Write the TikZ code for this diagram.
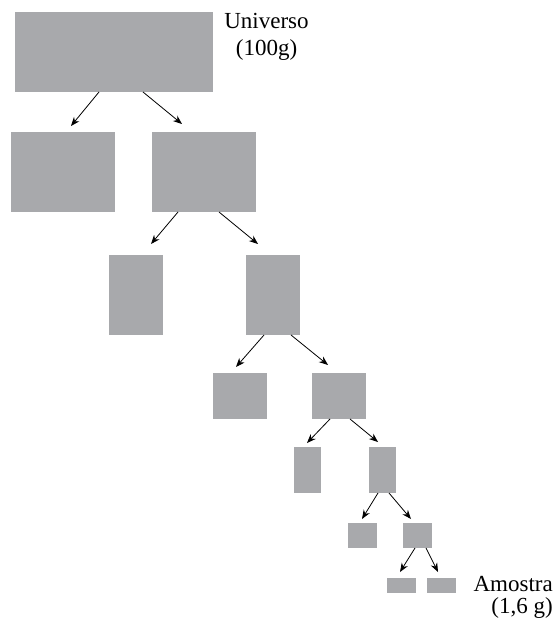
\documentclass[tikz,border=0pt]{standalone}
\usepackage{fontspec}
\setmainfont{Liberation Serif}
\usetikzlibrary{arrows.meta,calc}
\definecolor{boxgray}{HTML}{A8A9AC}
\tikzset{
  box/.style={fill=boxgray, draw=none, inner sep=0pt, outer sep=0pt, rectangle},
  arr/.style={draw=black, line width=0.8pt, -{Stealth[length=9pt,width=7pt]}},
  lbl/.style={font=\fontsize{23}{27}\selectfont, inner sep=0pt}
}
\begin{document}
\begin{tikzpicture}[x=1pt,y=-1pt]
\useasboundingbox (0,0) rectangle (558,620);
% boxes
\node[box, minimum width=198pt, minimum height=80pt] (r0) at (114,52) {};
\node[box, minimum width=104pt, minimum height=80pt] (r1L) at (63,172) {};
\node[box, minimum width=104pt, minimum height=80pt] (r1R) at (204,172) {};
\node[box, minimum width=54pt, minimum height=80pt] (r2L) at (136,295) {};
\node[box, minimum width=54pt, minimum height=80pt] (r2R) at (273,295) {};
\node[box, minimum width=54pt, minimum height=46pt] (r3L) at (240,396) {};
\node[box, minimum width=54pt, minimum height=46pt] (r3R) at (338.5,396) {};
\node[box, minimum width=27pt, minimum height=46pt] (r4L) at (307.5,470) {};
\node[box, minimum width=27pt, minimum height=46pt] (r4R) at (382.5,470) {};
\node[box, minimum width=29pt, minimum height=25pt] (r5L) at (362.5,535.5) {};
\node[box, minimum width=29pt, minimum height=25pt] (r5R) at (417.5,535.5) {};
\node[box, minimum width=29pt, minimum height=15pt] (r6L) at (401.5,585.5) {};
\node[box, minimum width=29pt, minimum height=15pt] (r6R) at (441.5,585.5) {};
% arrows
\draw[arr] ($(r0.south)+(-15,0)$) -- ($(r1L.north)+(8,-6)$);
\draw[arr] ($(r0.south)+(29,0)$) -- ($(r1R.north)+(-22,-8)$);
\draw[arr] ($(r1R.south)+(-26,0)$) -- ($(r2L.north)+(15,-11)$);
\draw[arr] ($(r1R.south)+(15,0)$) -- ($(r2R.north)+(-15,-11)$);
\draw[arr] ($(r2R.south)+(-9,0)$) -- ($(r3L.north)+(-4,-6)$);
\draw[arr] ($(r2R.south)+(18,0)$) -- ($(r3R.north)+(-10.5,-8)$);
\draw[arr] ($(r3R.south)+(-8.5,0)$) -- ($(r4L.north)+(-0.5,-4)$);
\draw[arr] ($(r3R.south)+(11.5,0)$) -- ($(r4R.north)+(-4.5,-5)$);
\draw[arr] ($(r4R.south)+(-4.5,0)$) -- ($(r5L.north)+(-0.5,-4)$);
\draw[arr] ($(r4R.south)+(6.5,0)$) -- ($(r5R.north)+(-6.5,-4)$);
\draw[arr] ($(r5R.south)+(-2.5,0)$) -- ($(r6L.north)+(-1.5,-6)$);
\draw[arr] ($(r5R.south)+(8.5,0)$) -- ($(r6R.north)+(-3.5,-6)$);
% labels
\node[lbl, anchor=base] (u1) at (266.5,29) {Universo};
\node[lbl, anchor=base] (u2) at (266.5,56) {(100g)};
\node[lbl, anchor=base east] (a1) at (553,591) {Amostra};
\node[lbl, anchor=base east] (a2) at (553,613) {(1,6 g)};
\end{tikzpicture}
\end{document}
